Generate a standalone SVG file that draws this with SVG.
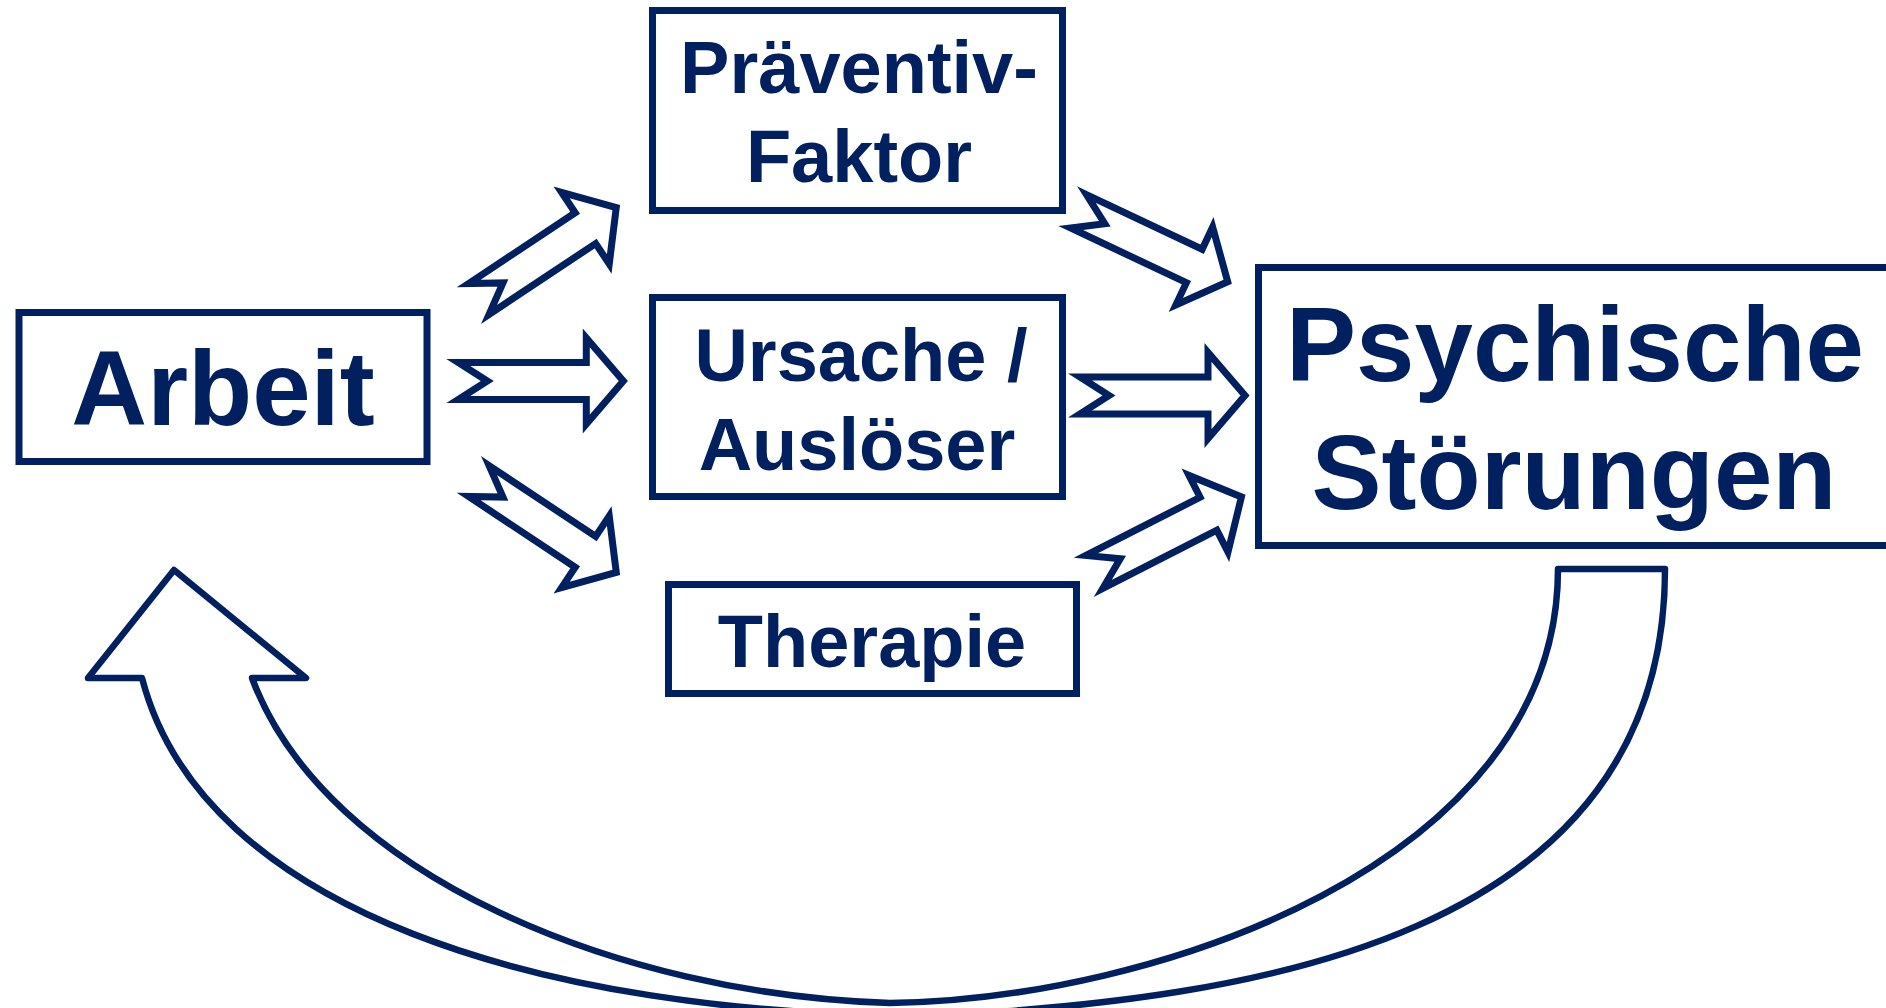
<svg xmlns="http://www.w3.org/2000/svg" xmlns:xlink="http://www.w3.org/1999/xlink" width="1886" height="1008" viewBox="0 0 1886 1008">
<defs>
<style>
.box{fill:#ffffff;stroke:#002060;stroke-width:7}
.lbl{font-family:"Liberation Sans",Arial,Helvetica,sans-serif;font-weight:bold;fill:#002060;text-anchor:middle}
.big{font-size:105px}
.mid{font-size:74px}
.barrow{fill:#ffffff;stroke:#002060;stroke-width:7;stroke-linejoin:miter;stroke-miterlimit:10}
.carrow{fill:#ffffff;stroke:#002060;stroke-width:6.5;stroke-linejoin:round}
</style>
<path id="blockArrow" d="M10,-18.5 H138 V-43 L175,0 L138,43 V18.5 H10 L39,0 Z"/>
</defs>
<rect x="0" y="0" width="1886" height="1008" fill="#ffffff"/>
<g id="connectors">
<use href="#blockArrow" xlink:href="#blockArrow" class="barrow" transform="translate(470.5,304.5) rotate(-33.6)"/>
<use href="#blockArrow" xlink:href="#blockArrow" class="barrow" transform="translate(448.3,381)"/>
<use href="#blockArrow" xlink:href="#blockArrow" class="barrow" transform="translate(470.5,475.5) rotate(33.6)"/>
<use href="#blockArrow" xlink:href="#blockArrow" class="barrow" transform="translate(1069.5,207) rotate(25.3)"/>
<use href="#blockArrow" xlink:href="#blockArrow" class="barrow" transform="translate(1070,395.5)"/>
<use href="#blockArrow" xlink:href="#blockArrow" class="barrow" transform="translate(1085.5,576.4) rotate(-27)"/>
<path class="carrow" d="M1558,569 L1665,569 C1665,940 1250,1000 930,1016 C540,1015 202,910 142,678 L88,678 L174,570 L306,678 L252,678 C325,875 620,995 890,1003 C1150,1000 1558,865 1558,569 Z"/>
</g>
<g id="node-arbeit">
<rect class="box" x="19" y="312.5" width="408" height="149"/>
<text class="lbl big" x="223" y="424.5">Arbeit</text>
</g>
<g id="node-praeventiv">
<rect class="box" x="652.5" y="10.5" width="410" height="200"/>
<text class="lbl mid" x="859" y="92.5">Präventiv-</text>
<text class="lbl mid" x="859" y="182">Faktor</text>
</g>
<g id="node-ursache">
<rect class="box" x="652.5" y="297.5" width="410" height="199"/>
<text class="lbl mid" x="861" y="380.5">Ursache /</text>
<text class="lbl mid" x="857" y="469.5">Auslöser</text>
</g>
<g id="node-therapie">
<rect class="box" x="668.5" y="584.5" width="408" height="109"/>
<text class="lbl mid" x="872" y="667">Therapie</text>
</g>
<g id="node-psychische">
<rect class="box" x="1258.5" y="267.5" width="640" height="278"/>
<text class="lbl big" x="1575" y="380.5">Psychische</text>
<text class="lbl big" x="1574" y="508.5">Störungen</text>
</g>
</svg>
